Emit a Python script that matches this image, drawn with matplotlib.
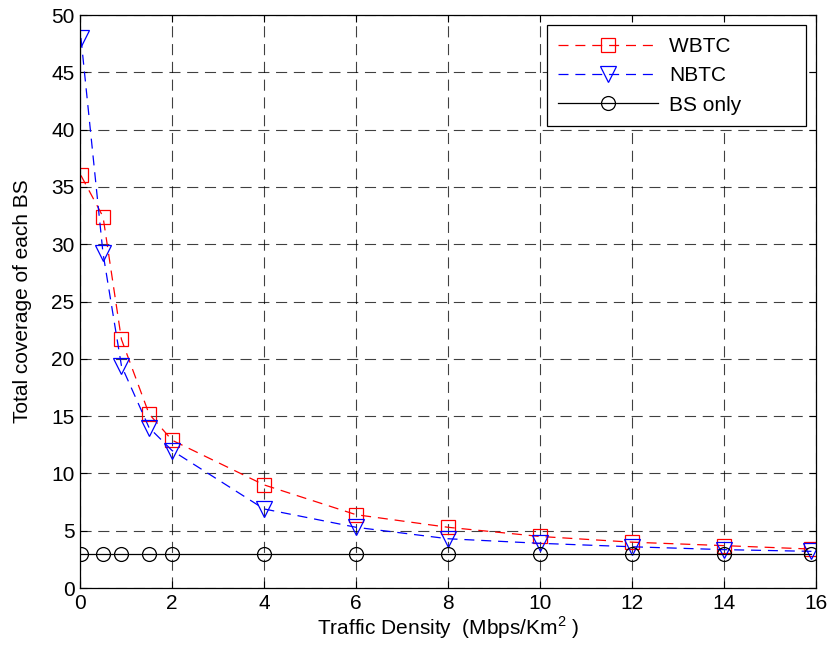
import matplotlib
matplotlib.use('Agg')
import matplotlib.pyplot as plt
import numpy as np

plt.rcParams['font.family'] = ['Liberation Sans', 'DejaVu Sans']

density = [0.02, 0.5, 0.9, 1.5, 2, 4, 6, 8, 10, 12, 14, 15.9]
wbtc = [36.0, 32.4, 21.7, 15.2, 12.9, 9.0, 6.4, 5.3, 4.5, 4.0, 3.7, 3.4]
nbtc = [48.0, 29.2, 19.4, 14.0, 12.0, 6.9, 5.3, 4.3, 3.9, 3.6, 3.35, 3.2]
bs_only = [3, 3, 3, 3, 3, 3, 3, 3, 3, 3, 3, 3]
labels = ['WBTC', 'NBTC', 'BS only']

fig = plt.figure(figsize=(8.31, 6.53), dpi=100)
ax = fig.add_axes([0.0963, 0.0995, 0.8857, 0.8775])

# trailing blanks widen the legend box like matlab does
ax.plot(density, wbtc, '--', color='red', lw=0.9, marker='s', markersize=10,
        markerfacecolor='none', markeredgecolor='red', markeredgewidth=0.9,
        dashes=(8, 5.5), label=labels[0] + ' ' * 11)
ax.plot(density, nbtc, '--', color='blue', lw=0.9, marker='v', markersize=11,
        markerfacecolor='none', markeredgecolor='blue', markeredgewidth=0.9,
        dashes=(8, 5.5), label=labels[1])
ax.plot(density, bs_only, '-', color='black', lw=0.9, marker='o', markersize=10,
        markerfacecolor='none', markeredgecolor='black', markeredgewidth=0.9,
        label=labels[2])

ax.set_xlim(0, 16)
ax.set_ylim(0, 50)
ax.set_xticks(np.arange(0, 17, 2))
ax.set_yticks(np.arange(0, 51, 5))
ax.grid(True, color='black', linestyle=(0, (10, 6)), lw=0.8, alpha=0.75)
ax.tick_params(direction='in', top=True, right=True, labelsize=15, length=5, pad=4)
for s in ax.spines.values():
    s.set_linewidth(0.9)

ax.set_xlabel('Traffic Density  (Mbps/Km$^{\\mathregular{2}}$ )', fontsize=15, labelpad=1)
ax.set_ylabel('Total coverage of each BS', fontsize=15, labelpad=14)

leg = ax.legend(loc='upper right', fontsize=15, fancybox=False, framealpha=1,
                edgecolor='black', borderpad=0.55, handlelength=4.8,
                handletextpad=0.55, labelspacing=0.5, borderaxespad=0.5)
leg.get_frame().set_linewidth(0.9)

plt.savefig('out.png', dpi=100)
